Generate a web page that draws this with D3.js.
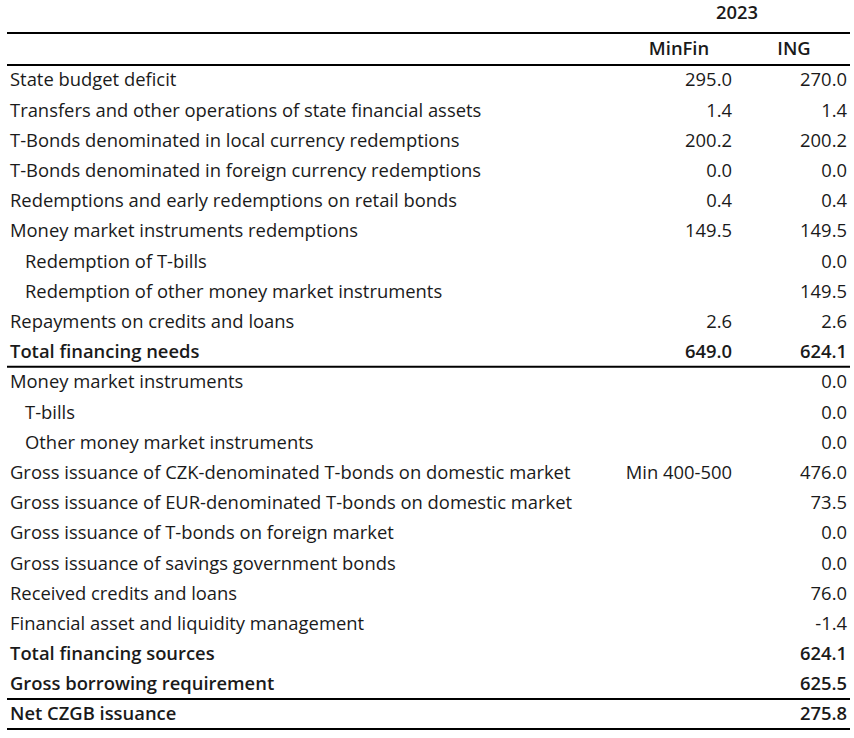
<!DOCTYPE html>
<html>
<head>
<meta charset="utf-8">
<script src="https://cdn.jsdelivr.net/npm/d3@7"></script>
<style>
  body { margin: 0; background: #fff; }
  svg text { font-family: "Open Sans", sans-serif; fill: #1a1a1a; }
</style>
</head>
<body>
<div id="chart"></div>
<script>
const year = "2023";
const columns = ["MinFin", "ING"];

const labels = [
  "State budget deficit",
  "Transfers and other operations of state financial assets",
  "T-Bonds denominated in local currency redemptions",
  "T-Bonds denominated in foreign currency redemptions",
  "Redemptions and early redemptions on retail bonds",
  "Money market instruments redemptions",
  "Redemption of T-bills",
  "Redemption of other money market instruments",
  "Repayments on credits and loans",
  "Total financing needs",
  "Money market instruments",
  "T-bills",
  "Other money market instruments",
  "Gross issuance of CZK-denominated T-bonds on domestic market",
  "Gross issuance of EUR-denominated T-bonds on domestic market",
  "Gross issuance of T-bonds on foreign market",
  "Gross issuance of savings government bonds",
  "Received credits and loans",
  "Financial asset and liquidity management",
  "Total financing sources",
  "Gross borrowing requirement",
  "Net CZGB issuance"
];

const minfinValues = [
  "295.0", "1.4", "200.2", "0.0", "0.4", "149.5", "", "", "2.6", "649.0",
  "", "", "", "Min 400-500", "", "", "", "", "", "", "", ""
];

const ingValues = [
  "270.0", "1.4", "200.2", "0.0", "0.4", "149.5", "0.0", "149.5", "2.6", "624.1",
  "0.0", "0.0", "0.0", "476.0", "73.5", "0.0", "0.0", "76.0", "-1.4", "624.1", "625.5", "275.8"
];

const boldRows = ["Total financing needs", "Total financing sources", "Gross borrowing requirement", "Net CZGB issuance"];
const indentedRows = ["Redemption of T-bills", "Redemption of other money market instruments", "T-bills", "Other money market instruments"];
// rows under which a thick rule is drawn
const ruleAfter = ["Total financing needs", "Gross borrowing requirement", "Net CZGB issuance"];

const width = 854, height = 738;
const fontSize = 18.4;
const boldWeight = 600;

const svg = d3.select("#chart").append("svg")
  .attr("width", width)
  .attr("height", height);

const y = d3.scaleLinear()
  .domain([0, labels.length - 1])
  .range([80, 714]);

const x = d3.scaleOrdinal()
  .domain(["label", "indent", ...columns])
  .range([10, 25, 732, 847]);

const rows = labels.map((label, i) => ({
  label,
  minfin: minfinValues[i],
  ing: ingValues[i],
  bold: boldRows.includes(label),
  indent: indentedRows.includes(label)
}));

// header
svg.append("text")
  .attr("x", 737)
  .attr("y", 13)
  .attr("dy", "0.35em")
  .attr("text-anchor", "middle")
  .style("font-size", `${fontSize}px`)
  .style("font-weight", boldWeight)
  .text(year);

svg.selectAll(".col-head")
  .data(columns)
  .enter()
  .append("text")
  .attr("class", "col-head")
  .attr("x", d => x(d) - 53)
  .attr("y", 49)
  .attr("dy", "0.35em")
  .attr("text-anchor", "middle")
  .style("font-size", `${fontSize}px`)
  .style("font-weight", boldWeight)
  .text(d => d);

const rule = yy => svg.append("line")
  .attr("x1", 7).attr("x2", 850)
  .attr("y1", yy).attr("y2", yy)
  .style("stroke", "#000")
  .style("stroke-width", 2);

rule(33);
rule(65);
labels.forEach((label, i) => {
  if (ruleAfter.includes(label)) rule((y(i) + y(i + 1 < labels.length ? i + 1 : i) ) / 2 + (i + 1 < labels.length ? 0 : 15));
});

const rowG = svg.selectAll(".row")
  .data(rows)
  .enter()
  .append("g")
  .attr("class", "row")
  .attr("transform", (d, i) => `translate(0, ${y(i)})`)
  .style("font-size", `${fontSize}px`)
  .style("font-weight", d => d.bold ? boldWeight : "normal");

rowG.append("text")
  .attr("x", d => d.indent ? x("indent") : x("label"))
  .attr("dy", "0.35em")
  .text(d => d.label);

rowG.append("text")
  .attr("x", x("MinFin"))
  .attr("dy", "0.35em")
  .attr("text-anchor", "end")
  .text(d => d.minfin);

rowG.append("text")
  .attr("x", x("ING"))
  .attr("dy", "0.35em")
  .attr("text-anchor", "end")
  .text(d => d.ing);
</script>
</body>
</html>
